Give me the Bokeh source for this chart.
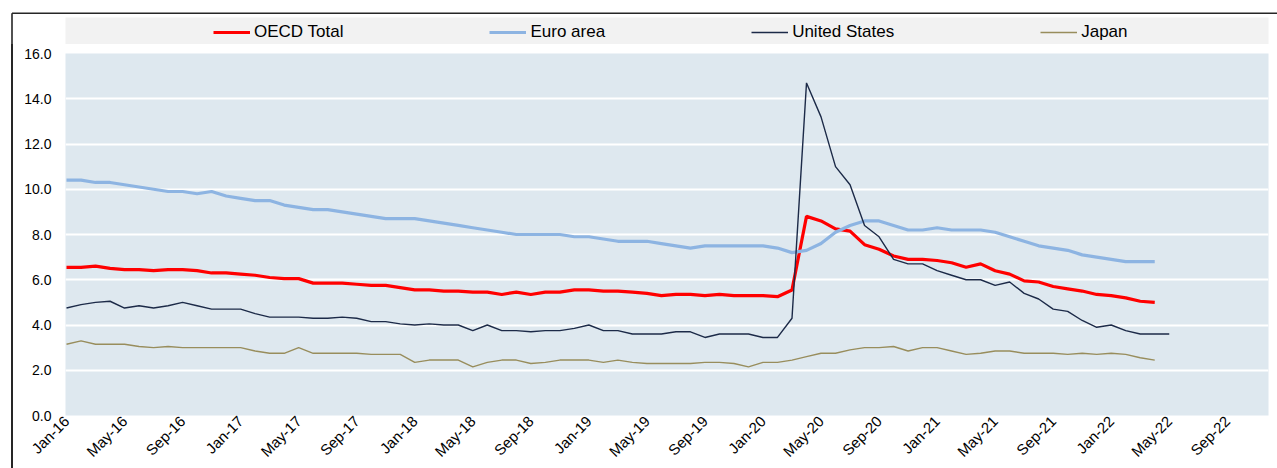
import pandas as pd
from bokeh.plotting import figure
from bokeh.layouts import column, row
from bokeh.models import (ColumnDataSource, FixedTicker, Range1d, Legend, LegendItem, Spacer, Div)
from bokeh.embed import file_html
from bokeh.resources import INLINE

# ---- data (monthly, starting Jan-16) ----
oecd = [6.55, 6.55, 6.6, 6.5, 6.45, 6.45, 6.4, 6.45, 6.45, 6.4, 6.3, 6.3, 6.25, 6.2, 6.1, 6.05,
        6.05, 5.85, 5.85, 5.85, 5.8, 5.75, 5.75, 5.65, 5.55, 5.55, 5.5, 5.5, 5.45, 5.45, 5.35, 5.45,
        5.35, 5.45, 5.45, 5.55, 5.55, 5.5, 5.5, 5.45, 5.4, 5.3, 5.35, 5.35, 5.3, 5.35, 5.3, 5.3,
        5.3, 5.25, 5.55, 8.8, 8.6, 8.25, 8.15, 7.55, 7.35, 7.05, 6.9, 6.9, 6.85, 6.75, 6.55, 6.7,
        6.4, 6.25, 5.95, 5.9, 5.7, 5.6, 5.5, 5.35, 5.3, 5.2, 5.05, 5.0]
euro = [10.4, 10.4, 10.3, 10.3, 10.2, 10.1, 10.0, 9.9, 9.9, 9.8, 9.9, 9.7, 9.6, 9.5, 9.5, 9.3,
        9.2, 9.1, 9.1, 9.0, 8.9, 8.8, 8.7, 8.7, 8.7, 8.6, 8.5, 8.4, 8.3, 8.2, 8.1, 8.0,
        8.0, 8.0, 8.0, 7.9, 7.9, 7.8, 7.7, 7.7, 7.7, 7.6, 7.5, 7.4, 7.5, 7.5, 7.5, 7.5,
        7.5, 7.4, 7.2, 7.3, 7.6, 8.1, 8.4, 8.6, 8.6, 8.4, 8.2, 8.2, 8.3, 8.2, 8.2, 8.2,
        8.1, 7.9, 7.7, 7.5, 7.4, 7.3, 7.1, 7.0, 6.9, 6.8, 6.8, 6.8]
usa = [4.75, 4.9, 5.0, 5.05, 4.75, 4.85, 4.75, 4.85, 5.0, 4.85, 4.7, 4.7, 4.7, 4.5, 4.35, 4.35,
       4.35, 4.3, 4.3, 4.35, 4.3, 4.15, 4.15, 4.05, 4.0, 4.05, 4.0, 4.0, 3.75, 4.0, 3.75, 3.75,
       3.7, 3.75, 3.75, 3.85, 4.0, 3.75, 3.75, 3.6, 3.6, 3.6, 3.7, 3.7, 3.45, 3.6, 3.6, 3.6,
       3.45, 3.45, 4.3, 14.7, 13.2, 11.0, 10.2, 8.4, 7.9, 6.9, 6.7, 6.7, 6.4, 6.2, 6.0, 6.0,
       5.75, 5.9, 5.4, 5.15, 4.7, 4.6, 4.2, 3.9, 4.0, 3.75, 3.6, 3.6, 3.6]
japan = [3.15, 3.3, 3.15, 3.15, 3.15, 3.05, 3.0, 3.05, 3.0, 3.0, 3.0, 3.0, 3.0, 2.85, 2.75, 2.75,
         3.0, 2.75, 2.75, 2.75, 2.75, 2.7, 2.7, 2.7, 2.35, 2.45, 2.45, 2.45, 2.15, 2.35, 2.45, 2.45,
         2.3, 2.35, 2.45, 2.45, 2.45, 2.35, 2.45, 2.35, 2.3, 2.3, 2.3, 2.3, 2.35, 2.35, 2.3, 2.15,
         2.35, 2.35, 2.45, 2.6, 2.75, 2.75, 2.9, 3.0, 3.0, 3.05, 2.85, 3.0, 3.0, 2.85, 2.7, 2.75,
         2.85, 2.85, 2.75, 2.75, 2.75, 2.7, 2.75, 2.7, 2.75, 2.7, 2.55, 2.45]

series_names = ["OECD Total", "Euro area", "United States", "Japan"]
tick_labels = ["Jan-16", "May-16", "Sep-16", "Jan-17", "May-17", "Sep-17", "Jan-18", "May-18",
               "Sep-18", "Jan-19", "May-19", "Sep-19", "Jan-20", "May-20", "Sep-20", "Jan-21",
               "May-21", "Sep-21", "Jan-22", "May-22", "Sep-22"]
y_ticks = [0, 2, 4, 6, 8, 10, 12, 14, 16]

all_months = pd.date_range("2016-01-01", "2022-12-01", freq="MS").strftime("%b-%y").tolist()
month_index = {m: i for i, m in enumerate(all_months)}

FONT = "Liberation Sans"
BORDER = "#262626"
styles = [dict(color="#ff0000", line_width=3.2),
          dict(color="#8db4e2", line_width=3.2),
          dict(color="#1c2a48", line_width=1.4),
          dict(color="#988d5c", line_width=1.4)]

# ---------------- top strip: legend band + outer box top edge ----------------
TOP_H = 44
top = figure(width=1277, height=TOP_H, output_backend="svg", toolbar_location=None,
             x_axis_type=None, y_axis_type=None, min_border=0,
             x_range=Range1d(0, 1277), y_range=Range1d(TOP_H, 0))
top.outline_line_color = None
top.background_fill_color = "white"
top.border_fill_color = "white"
top.xgrid.visible = False
top.ygrid.visible = False
top.quad(left=[65], right=[1268], top=[17], bottom=[TOP_H], fill_color="#f2f2f2", line_color=None)
top.segment(x0=[11.5, 11.5], y0=[12.8, 12.8], x1=[1277, 11.5], y1=[12.8, TOP_H],
            line_color=BORDER, line_width=1.6)
# legend-only renderers (kept off-canvas)
dummies = [top.line(x=[-50, -40], y=[-50, -50], **s) for s in styles]
legend = Legend(items=[LegendItem(label=n, renderers=[r]) for n, r in zip(series_names, dummies)],
                orientation="horizontal", location=(208, TOP_H - 47), spacing=146,
                glyph_width=37, glyph_height=20, label_standoff=4,
                label_text_font=FONT, label_text_font_size="17px", label_text_color="black",
                background_fill_alpha=0, border_line_alpha=0, margin=0, padding=5)
top.add_layout(legend)

# ---------------- left edge of the outer box ----------------
MAIN_H = 468 - TOP_H
gap = Spacer(width=11, height=MAIN_H, margin=0)
edge = Div(width=2, height=MAIN_H, text="", margin=0, styles={"background-color": BORDER})

# ---------------- main chart ----------------
p = figure(width=1264, height=MAIN_H, output_backend="svg", toolbar_location=None,
           x_range=Range1d(-0.07, 82.84), y_range=Range1d(0, 16),
           min_border_left=52, min_border_right=9, min_border_top=53 - TOP_H, min_border_bottom=53)
p.margin = 0
p.background_fill_color = "#dee8ef"
p.border_fill_color = "white"
p.outline_line_color = None

for vals, s in zip([oecd, euro, usa, japan], styles):
    p.line("x", "y", source=ColumnDataSource(dict(x=list(range(len(vals))), y=vals)), **s)

p.xaxis.ticker = FixedTicker(ticks=[month_index[t] for t in tick_labels])
p.xaxis.major_label_overrides = {month_index[t]: t for t in tick_labels}
p.xaxis.major_label_orientation = 0.785398
p.yaxis.ticker = FixedTicker(ticks=y_ticks)
p.yaxis.major_label_overrides = {v: f"{v:.1f}" for v in y_ticks}
for ax in (p.xaxis[0], p.yaxis[0]):
    ax.axis_line_color = None
    ax.major_tick_line_color = None
    ax.minor_tick_line_color = None
    ax.major_tick_out = 0
    ax.major_tick_in = 0
    ax.minor_tick_out = 0
    ax.major_label_text_font = FONT
    ax.major_label_text_font_size = "14px"
    ax.major_label_text_color = "black"
p.xaxis.major_label_text_font_size = "15px"
p.yaxis.major_label_standoff = 14
p.xaxis.major_label_standoff = 3

p.xgrid.grid_line_color = None
p.ygrid.grid_line_color = "white"
p.ygrid.grid_line_width = 2
p.ygrid.ticker = FixedTicker(ticks=y_ticks)

layout = column(top, row(gap, edge, p, spacing=0), spacing=0)
open("out.html", "w").write(file_html(layout, INLINE))
